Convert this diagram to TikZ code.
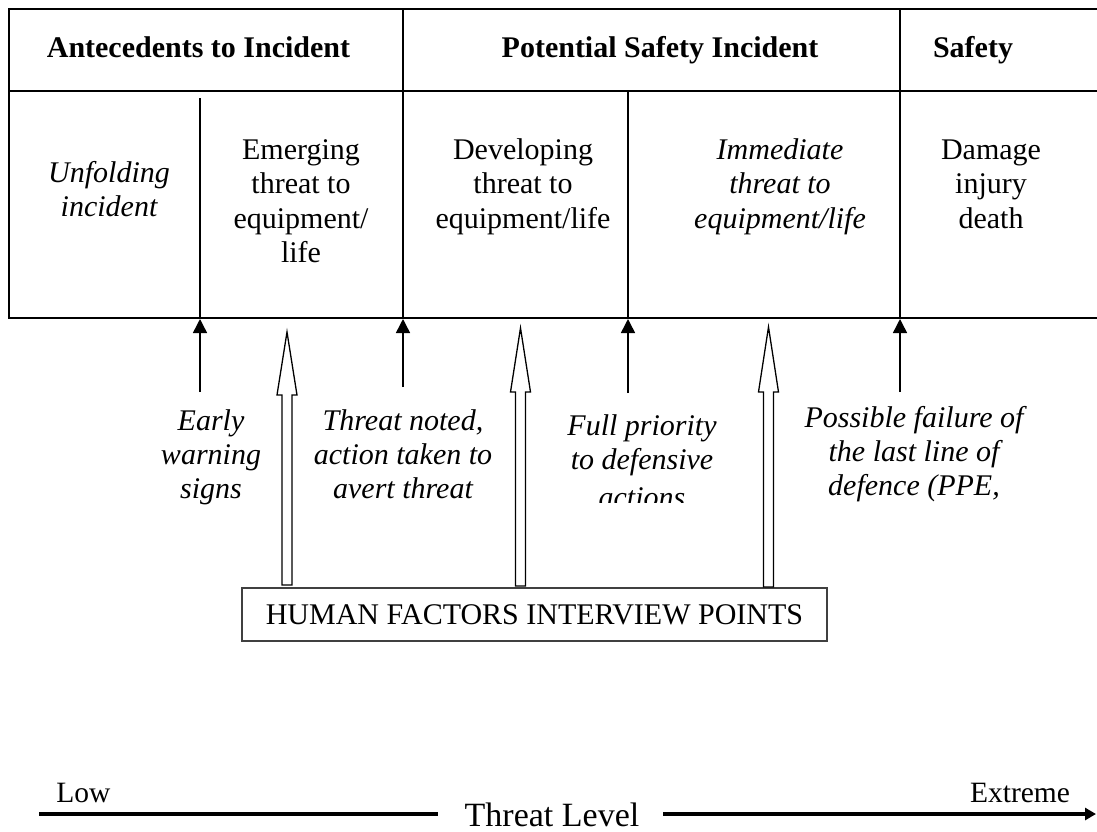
\documentclass[tikz,border=0pt]{standalone}
\usepackage{fontspec}
\setmainfont{Liberation Serif}
\usetikzlibrary{arrows.meta}
\newcommand\mlines[1]{\begin{tabular}[t]{@{}c@{}}#1\end{tabular}}
\begin{document}
\begin{tikzpicture}[x=1pt,y=-1pt,
  tbl/.style={line width=2pt},
  hdr/.style={font=\fontsize{30}{34.5}\selectfont\bfseries, anchor=base, inner sep=0pt},
  cell/.style={font=\fontsize{30}{34.5}\selectfont, anchor=base, inner sep=0pt},
  icell/.style={font=\fontsize{30}{34.5}\selectfont\itshape, anchor=base, inner sep=0pt},
  lbl/.style={font=\fontsize{30}{34}\selectfont\itshape, anchor=base, inner sep=0pt},
  smallarrow/.style={line width=1.5pt, -{Triangle[length=14pt,width=14pt]}},
  hollow/.style={draw, line width=1.3pt, fill=white, line join=miter},
  axis/.style={line width=4pt},
]
\useasboundingbox (0,0) rectangle (1097,831);

% table
\draw[tbl] (1097,9) -- (9,9) -- (9,318) -- (1097,318);
\draw[tbl] (9,91) -- (1097,91);
\draw[tbl] (403,9) -- (403,318);
\draw[tbl] (900,9) -- (900,318);
\draw[tbl] (628,91) -- (628,318);
\draw[tbl] (200,98) -- (200,318);

% headers
\node[hdr] (h1) at (198.5,57) {Antecedents to Incident};
\node[hdr] (h2) at (660,57) {Potential Safety Incident};
\node[hdr] (h3) at (973,57) {Safety};

% cells
\node[icell] (c1) at (109,182) {\mlines{Unfolding\\incident}};
\node[cell] (c2) at (301,159) {\mlines{Emerging\\threat to\\equipment/\\life}};
\node[cell] (c3) at (523,159) {\mlines{Developing\\threat to\\equipment/life}};
\node[icell] (c4) at (780,159) {\mlines{Immediate\\threat to\\equipment/life}};
\node[cell] (c5) at (991,159) {\mlines{Damage\\injury\\death}};

% small arrows
\coordinate (b1) at (200,319);
\coordinate (b2) at (403,319);
\coordinate (b3) at (628,319);
\coordinate (b4) at (900,319);
\coordinate (t1) at (200,392);
\coordinate (t2) at (403,387);
\coordinate (t3) at (628,393);
\coordinate (t4) at (900,392);
\draw[smallarrow] (t1) -- (b1);
\draw[smallarrow] (t2) -- (b2);
\draw[smallarrow] (t3) -- (b3);
\draw[smallarrow] (t4) -- (b4);

% labels
\node[lbl] (l1) at (211,430) {\mlines{Early\\warning\\signs}};
\node[lbl] (l2) at (403,430) {\mlines{Threat noted,\\action taken to\\avert threat}};
\begin{scope}
\clip (540,380) rectangle (745,502);
\node[lbl] (l3) at (642,435) {\mlines{Full priority\\to defensive\\[4pt]actions}};
\end{scope}
\node[lbl] (l4) at (914,427) {\mlines{Possible failure of\\the last line of\\defence (PPE,}};

% interview box
\node[draw=black!75, line width=1.2pt, minimum width=585pt, minimum height=53pt,
      inner sep=0pt, font=\fontsize{30}{34.5}\selectfont] (hf) at (534.5,614.5)
      {HUMAN FACTORS INTERVIEW POINTS};

% hollow arrows
\draw[hollow] (282,585) -- (282,395) -- (277,395) -- (287,332) -- (297,395) -- (292,395) -- (292,585) -- cycle;
\draw[hollow] (515.5,586) -- (515.5,392) -- (510.5,392) -- (520.5,328) -- (530.5,392) -- (525.5,392) -- (525.5,586) -- cycle;
\draw[hollow] (763.5,587) -- (763.5,392) -- (758.5,392) -- (768.5,327) -- (778.5,392) -- (773.5,392) -- (773.5,587) -- cycle;

% threat level axis
\node[font=\fontsize{34}{40}\selectfont, anchor=base, inner sep=0pt] (tl) at (552,826) {Threat Level};
\node[font=\fontsize{29.5}{34}\selectfont, anchor=base, inner sep=0pt] (low) at (83.5,802) {Low};
\node[font=\fontsize{29.5}{34}\selectfont, anchor=base, inner sep=0pt] (ext) at (1020,802) {Extreme};
\coordinate (ls) at (39,814);
\coordinate (lm) at (438,814);
\coordinate (rm) at (663,814);
\coordinate (le) at (1096,814);
\draw[axis] (ls) -- (lm);
\draw[axis, -{Triangle[length=11pt,width=12pt]}] (rm) -- (le);
\end{tikzpicture}
\end{document}
